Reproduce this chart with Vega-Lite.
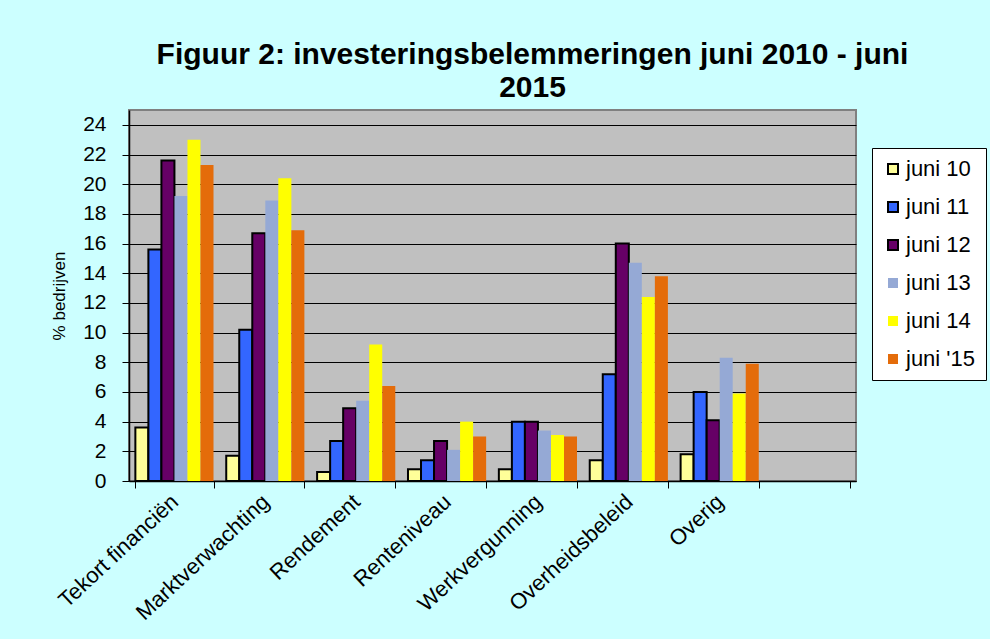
{
  "$schema": "https://vega.github.io/schema/vega-lite/v6.json",
  "autosize": "none",
  "width": 727,
  "height": 371,
  "padding": {"left": 129, "top": 110, "right": 134, "bottom": 158},
  "background": "#ccffff",
  "title": {
    "text": ["Figuur 2: investeringsbelemmeringen juni 2010 - juni", "2015"],
    "font": "Liberation Sans",
    "fontSize": 30,
    "fontWeight": "bold",
    "color": "#000000",
    "anchor": "middle",
    "dx": 40,
    "offset": 7,
    "lineHeight": 33
  },
  "config": {
    "view": {"fill": "#c0c0c0", "stroke": "#808080", "strokeWidth": 2},
    "font": "Liberation Sans"
  },
  "data": {
    "values": [
      {"categorie": "Tekort financiën", "periode": "juni 10", "waarde": 3.6},
      {"categorie": "Tekort financiën", "periode": "juni 11", "waarde": 15.6},
      {"categorie": "Tekort financiën", "periode": "juni 12", "waarde": 21.6},
      {"categorie": "Tekort financiën", "periode": "juni 13", "waarde": 19.2},
      {"categorie": "Tekort financiën", "periode": "juni 14", "waarde": 23.0},
      {"categorie": "Tekort financiën", "periode": "juni '15", "waarde": 21.3},
      {"categorie": "Marktverwachting", "periode": "juni 10", "waarde": 1.7},
      {"categorie": "Marktverwachting", "periode": "juni 11", "waarde": 10.2},
      {"categorie": "Marktverwachting", "periode": "juni 12", "waarde": 16.7},
      {"categorie": "Marktverwachting", "periode": "juni 13", "waarde": 18.9},
      {"categorie": "Marktverwachting", "periode": "juni 14", "waarde": 20.4},
      {"categorie": "Marktverwachting", "periode": "juni '15", "waarde": 16.9},
      {"categorie": "Rendement", "periode": "juni 10", "waarde": 0.6},
      {"categorie": "Rendement", "periode": "juni 11", "waarde": 2.7},
      {"categorie": "Rendement", "periode": "juni 12", "waarde": 4.9},
      {"categorie": "Rendement", "periode": "juni 13", "waarde": 5.4},
      {"categorie": "Rendement", "periode": "juni 14", "waarde": 9.2},
      {"categorie": "Rendement", "periode": "juni '15", "waarde": 6.4},
      {"categorie": "Renteniveau", "periode": "juni 10", "waarde": 0.8},
      {"categorie": "Renteniveau", "periode": "juni 11", "waarde": 1.4},
      {"categorie": "Renteniveau", "periode": "juni 12", "waarde": 2.7},
      {"categorie": "Renteniveau", "periode": "juni 13", "waarde": 2.1},
      {"categorie": "Renteniveau", "periode": "juni 14", "waarde": 4.0},
      {"categorie": "Renteniveau", "periode": "juni '15", "waarde": 3.0},
      {"categorie": "Werkvergunning", "periode": "juni 10", "waarde": 0.8},
      {"categorie": "Werkvergunning", "periode": "juni 11", "waarde": 4.0},
      {"categorie": "Werkvergunning", "periode": "juni 12", "waarde": 4.0},
      {"categorie": "Werkvergunning", "periode": "juni 13", "waarde": 3.4},
      {"categorie": "Werkvergunning", "periode": "juni 14", "waarde": 3.1},
      {"categorie": "Werkvergunning", "periode": "juni '15", "waarde": 3.0},
      {"categorie": "Overheidsbeleid", "periode": "juni 10", "waarde": 1.4},
      {"categorie": "Overheidsbeleid", "periode": "juni 11", "waarde": 7.2},
      {"categorie": "Overheidsbeleid", "periode": "juni 12", "waarde": 16.0},
      {"categorie": "Overheidsbeleid", "periode": "juni 13", "waarde": 14.7},
      {"categorie": "Overheidsbeleid", "periode": "juni 14", "waarde": 12.4},
      {"categorie": "Overheidsbeleid", "periode": "juni '15", "waarde": 13.8},
      {"categorie": "Overig", "periode": "juni 10", "waarde": 1.8},
      {"categorie": "Overig", "periode": "juni 11", "waarde": 6.0},
      {"categorie": "Overig", "periode": "juni 12", "waarde": 4.1},
      {"categorie": "Overig", "periode": "juni 13", "waarde": 8.3},
      {"categorie": "Overig", "periode": "juni 14", "waarde": 5.9},
      {"categorie": "Overig", "periode": "juni '15", "waarde": 7.9}
    ]
  },
  "mark": {"type": "bar", "strokeWidth": 2},
  "encoding": {
    "x": {
      "field": "categorie",
      "type": "nominal",
      "sort": null,
      "scale": {
        "domain": ["Tekort financiën", "Marktverwachting", "Rendement", "Renteniveau", "Werkvergunning", "Overheidsbeleid", "Overig", " "],
        "paddingInner": 0.14,
        "paddingOuter": 0.07
      },
      "axis": {
        "title": null,
        "tickBand": "extent",
        "labelAngle": -43,
        "labelAlign": "right",
        "labelBaseline": "middle",
        "labelFontSize": 22,
        "labelColor": "#000000",
        "labelPadding": 10,
        "tickSize": 7,
        "tickColor": "#000000",
        "domainColor": "#000000",
        "domainWidth": 1.5,
        "grid": false
      }
    },
    "xOffset": {
      "field": "periode",
      "type": "nominal",
      "sort": ["juni 10", "juni 11", "juni 12", "juni 13", "juni 14", "juni '15"],
      "scale": {"paddingInner": 0, "paddingOuter": 0}
    },
    "y": {
      "field": "waarde",
      "type": "quantitative",
      "scale": {"domain": [0, 25], "nice": false},
      "axis": {
        "title": "% bedrijven",
        "titleFontSize": 17,
        "titleFontWeight": "normal",
        "titleColor": "#000000",
        "titlePadding": 14,
        "values": [0, 2, 4, 6, 8, 10, 12, 14, 16, 18, 20, 22, 24],
        "labelFontSize": 21,
        "labelColor": "#000000",
        "labelPadding": 16,
        "tickSize": 7,
        "tickColor": "#000000",
        "domainColor": "#000000",
        "domainWidth": 1.5,
        "grid": true,
        "gridColor": "#000000",
        "gridWidth": 1
      }
    },
    "color": {
      "field": "periode",
      "type": "nominal",
      "sort": ["juni 10", "juni 11", "juni 12", "juni 13", "juni 14", "juni '15"],
      "scale": {
        "domain": ["juni 10", "juni 11", "juni 12", "juni 13", "juni 14", "juni '15"],
        "range": ["#ffff99", "#3366ff", "#660066", "#95a9d5", "#ffff00", "#e46c0a"]
      },
      "legend": {
        "title": null,
        "orient": "none",
        "legendX": 743,
        "legendY": 38,
        "fillColor": "#ffffff",
        "strokeColor": "#000000",
        "padding": 10,
        "symbolType": "square",
        "symbolSize": 100,
        "symbolStrokeWidth": 2,
        "symbolOpacity": 1,
        "labelFontSize": 22,
        "labelColor": "#000000",
        "labelOffset": 2,
        "rowPadding": 16
      }
    },
    "stroke": {
      "field": "periode",
      "type": "nominal",
      "sort": ["juni 10", "juni 11", "juni 12", "juni 13", "juni 14", "juni '15"],
      "scale": {
        "domain": ["juni 10", "juni 11", "juni 12", "juni 13", "juni 14", "juni '15"],
        "range": ["#000000", "#000000", "#000000", "transparent", "transparent", "transparent"]
      },
      "legend": {
        "title": null,
        "orient": "none",
        "legendX": 743,
        "legendY": 38,
        "fillColor": "#ffffff",
        "strokeColor": "#000000",
        "padding": 10,
        "symbolType": "square",
        "symbolSize": 100,
        "symbolStrokeWidth": 2,
        "labelFontSize": 22,
        "labelColor": "#000000",
        "labelOffset": 2,
        "rowPadding": 16
      }
    }
  }
}
